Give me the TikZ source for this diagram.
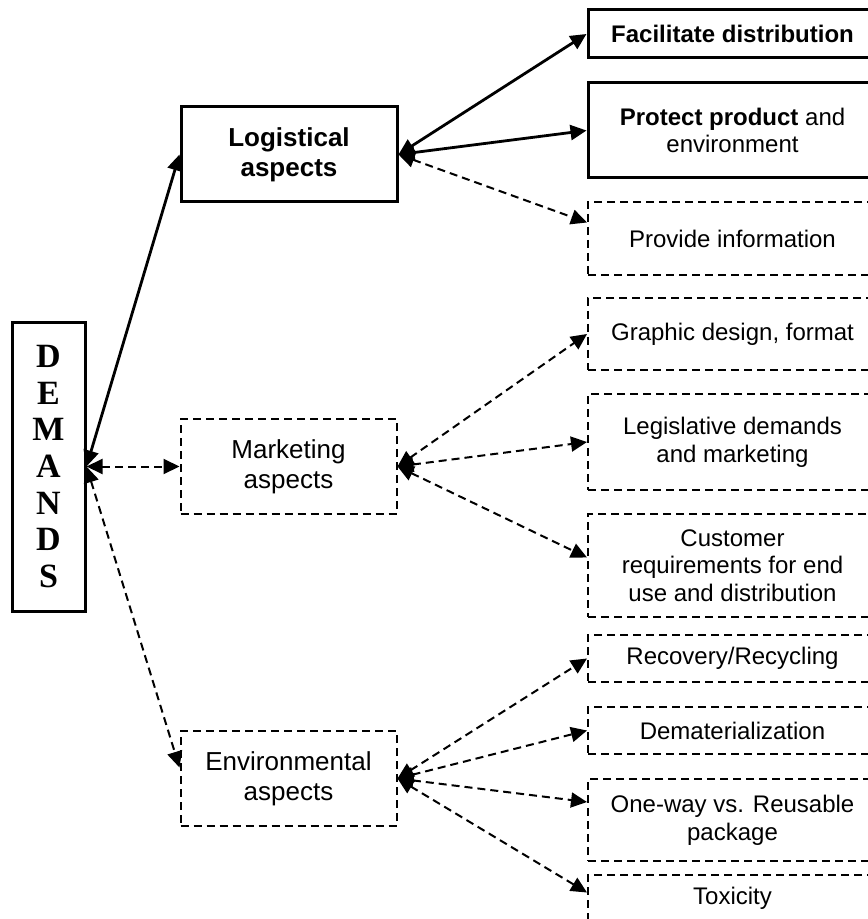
\documentclass[tikz,border=0pt]{standalone}
\usepackage{fontspec}
\setmainfont{Liberation Sans}
\newfontfamily\demfont{Liberation Serif}
\usetikzlibrary{arrows.meta}
\tikzset{solidbox/.style = {draw, line width=1.5pt, align=center, inner sep=0, font=\fontsize{12}{13.8}\selectfont}}
\tikzset{dashbox/.style = {draw, line width=1pt, dash pattern=on 4pt off 2.5pt, align=center, inner sep=0, font=\fontsize{12}{13.8}\selectfont}}
\tikzset{leftbox/.style = {minimum width=108pt, minimum height=47.5pt, font=\fontsize{13}{15}\selectfont}}
\tikzset{rightbox/.style = {minimum width=144.5pt}}
\tikzset{link/.style = {{Triangle[length=8pt,width=7.5pt]}-{Triangle[length=8pt,width=7.5pt]}, line width=1.4pt}}
\tikzset{dashlink/.style = {link, line width=1pt, dash pattern=on 4pt off 2.5pt}}

\begin{document}
\begin{tikzpicture}[x=0.5pt,y=-0.5pt]
      \useasboundingbox (0,0) rectangle (867,919);

      \node[solidbox,minimum width=36.5pt,minimum height=144.5pt,font=\demfont\bfseries\fontsize{17}{18.3}\selectfont] (demands) at (48.5,466.5) {D\\E\\M\\A\\N\\D\\S};

      \node[solidbox,leftbox,font=\bfseries\fontsize{13}{15}\selectfont] (logist) at (289,154.5) {Logistical\\aspects};
      \node[dashbox,leftbox] (market) at (288.5,466.5) {Marketing\\aspects};
      \node[dashbox,leftbox] (env) at (288.5,778.5) {Environmental\\aspects};

      \node[solidbox,rightbox,minimum height=24pt,font=\bfseries\fontsize{12}{13.8}\selectfont] (facil) at (732.5,34) {Facilitate distribution};
      \node[solidbox,rightbox,minimum height=47.5pt] (protect) at (732.5,130.5) {\textbf{Protect product} and\\environment};
      \node[dashbox,rightbox,minimum height=36.5pt] (info) at (732.5,238.5) {Provide information};

      \node[dashbox,rightbox,minimum height=36pt] (graphic) at (732.5,334) {Graphic design, format};
      \node[dashbox,rightbox,minimum height=48pt] (legis) at (732.5,442) {Legislative demands\\and marketing};
      \node[dashbox,rightbox,minimum height=51.5pt] (cust) at (732.5,565.5) {Customer\\requirements for end\\use and distribution};

      \node[dashbox,rightbox,minimum height=23.5pt] (recov) at (732.5,658.5) {Recovery/Recycling};
      \node[dashbox,rightbox,minimum height=23.5pt] (demat) at (732.5,730.5) {Dematerialization};
      \node[dashbox,rightbox,minimum height=41pt] (oneway) at (732.5,820) {One-way vs. Reusable\\package};
      \node[dashbox,rightbox,minimum height=23.5pt] (toxic) at (732.5,898.5) {Toxicity};

      \draw[link] (demands.east) -- (logist.west);
      \draw[dashlink] (demands.east) -- (market.west);
      \draw[dashlink] (demands.east) -- ([yshift=5.5pt]env.west);

      \draw[link] (logist.east) -- (facil.west);
      \draw[link] (logist.east) -- (protect.west);
      \draw[dashlink] (logist.east) -- ([yshift=8pt]info.west);

      \draw[dashlink] (market.east) -- (graphic.west);
      \draw[dashlink] (market.east) -- (legis.west);
      \draw[dashlink] (market.east) -- ([yshift=4pt]cust.west);

      \draw[dashlink] (env.east) -- (recov.west);
      \draw[dashlink] (env.east) -- (demat.west);
      \draw[dashlink] (env.east) -- ([yshift=9pt]oneway.west);
      \draw[dashlink] (env.east) -- ([yshift=3pt]toxic.west);
  \end{tikzpicture}
\end{document}
